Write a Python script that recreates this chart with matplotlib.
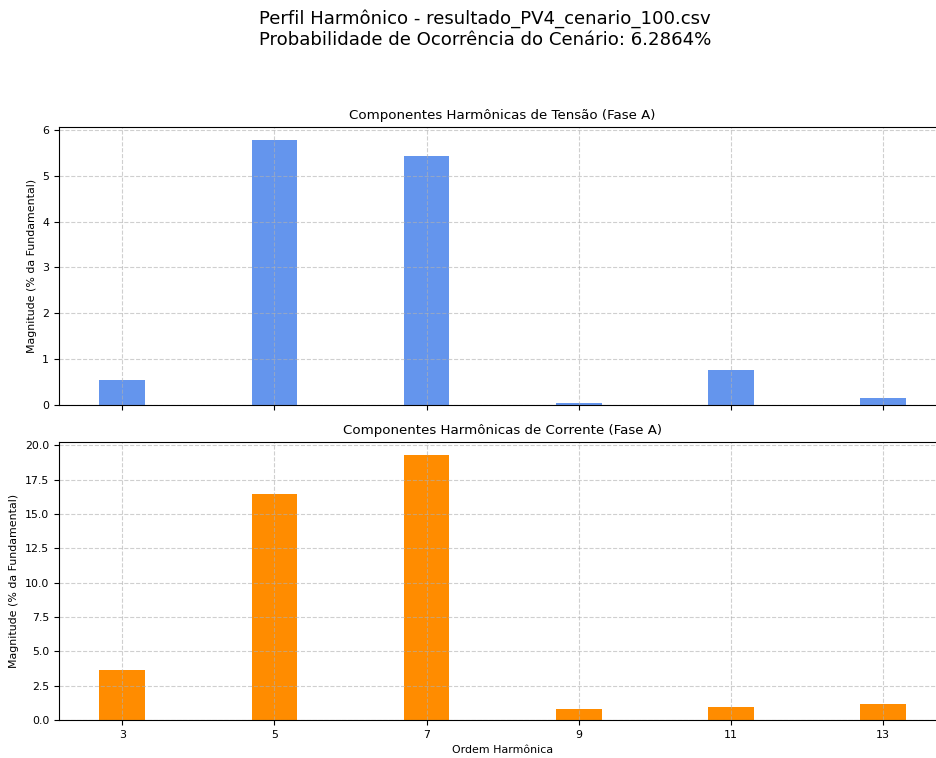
import numpy as np
import matplotlib
matplotlib.use("Agg")
import matplotlib.pyplot as plt

ordens = [3, 5, 7, 9, 11, 13]
tensao = [0.54, 5.78, 5.44, 0.03, 0.76, 0.14]
corrente = [3.65, 16.47, 19.25, 0.82, 0.94, 1.16]

arquivo = "resultado_PV4_cenario_100.csv"
probabilidade = 6.2864

fig, (ax1, ax2) = plt.subplots(2, 1, figsize=(9.37, 7.58), dpi=100, sharex=True)
fig.subplots_adjust(left=59/937, right=1.01, top=1-127/758, bottom=1-720/758, hspace=0.135)

fig.suptitle(f"Perfil Harmônico - {arquivo}\nProbabilidade de Ocorrência do Cenário: {probabilidade:.4f}%",
             fontsize=13.1, x=485/937, y=0.988)

ax1.bar(ordens, tensao, width=0.6, color="cornflowerblue")
ax1.set_title("Componentes Harmônicas de Tensão (Fase A)", fontsize=9.6)
ax1.set_ylabel("Magnitude (% da Fundamental)", fontsize=7.9)
ax1.grid(True, linestyle="--", alpha=0.6)
ax1.tick_params(labelsize=7.9)

ax2.bar(ordens, corrente, width=0.6, color="darkorange")
ax2.set_title("Componentes Harmônicas de Corrente (Fase A)", fontsize=9.6)
ax2.set_ylabel("Magnitude (% da Fundamental)", fontsize=7.9)
ax2.set_xlabel("Ordem Harmônica", fontsize=7.9)
ax2.set_xticks(ordens)
ax2.grid(True, linestyle="--", alpha=0.6)
ax2.tick_params(labelsize=7.9)

fig.savefig("out.png", dpi=100)
